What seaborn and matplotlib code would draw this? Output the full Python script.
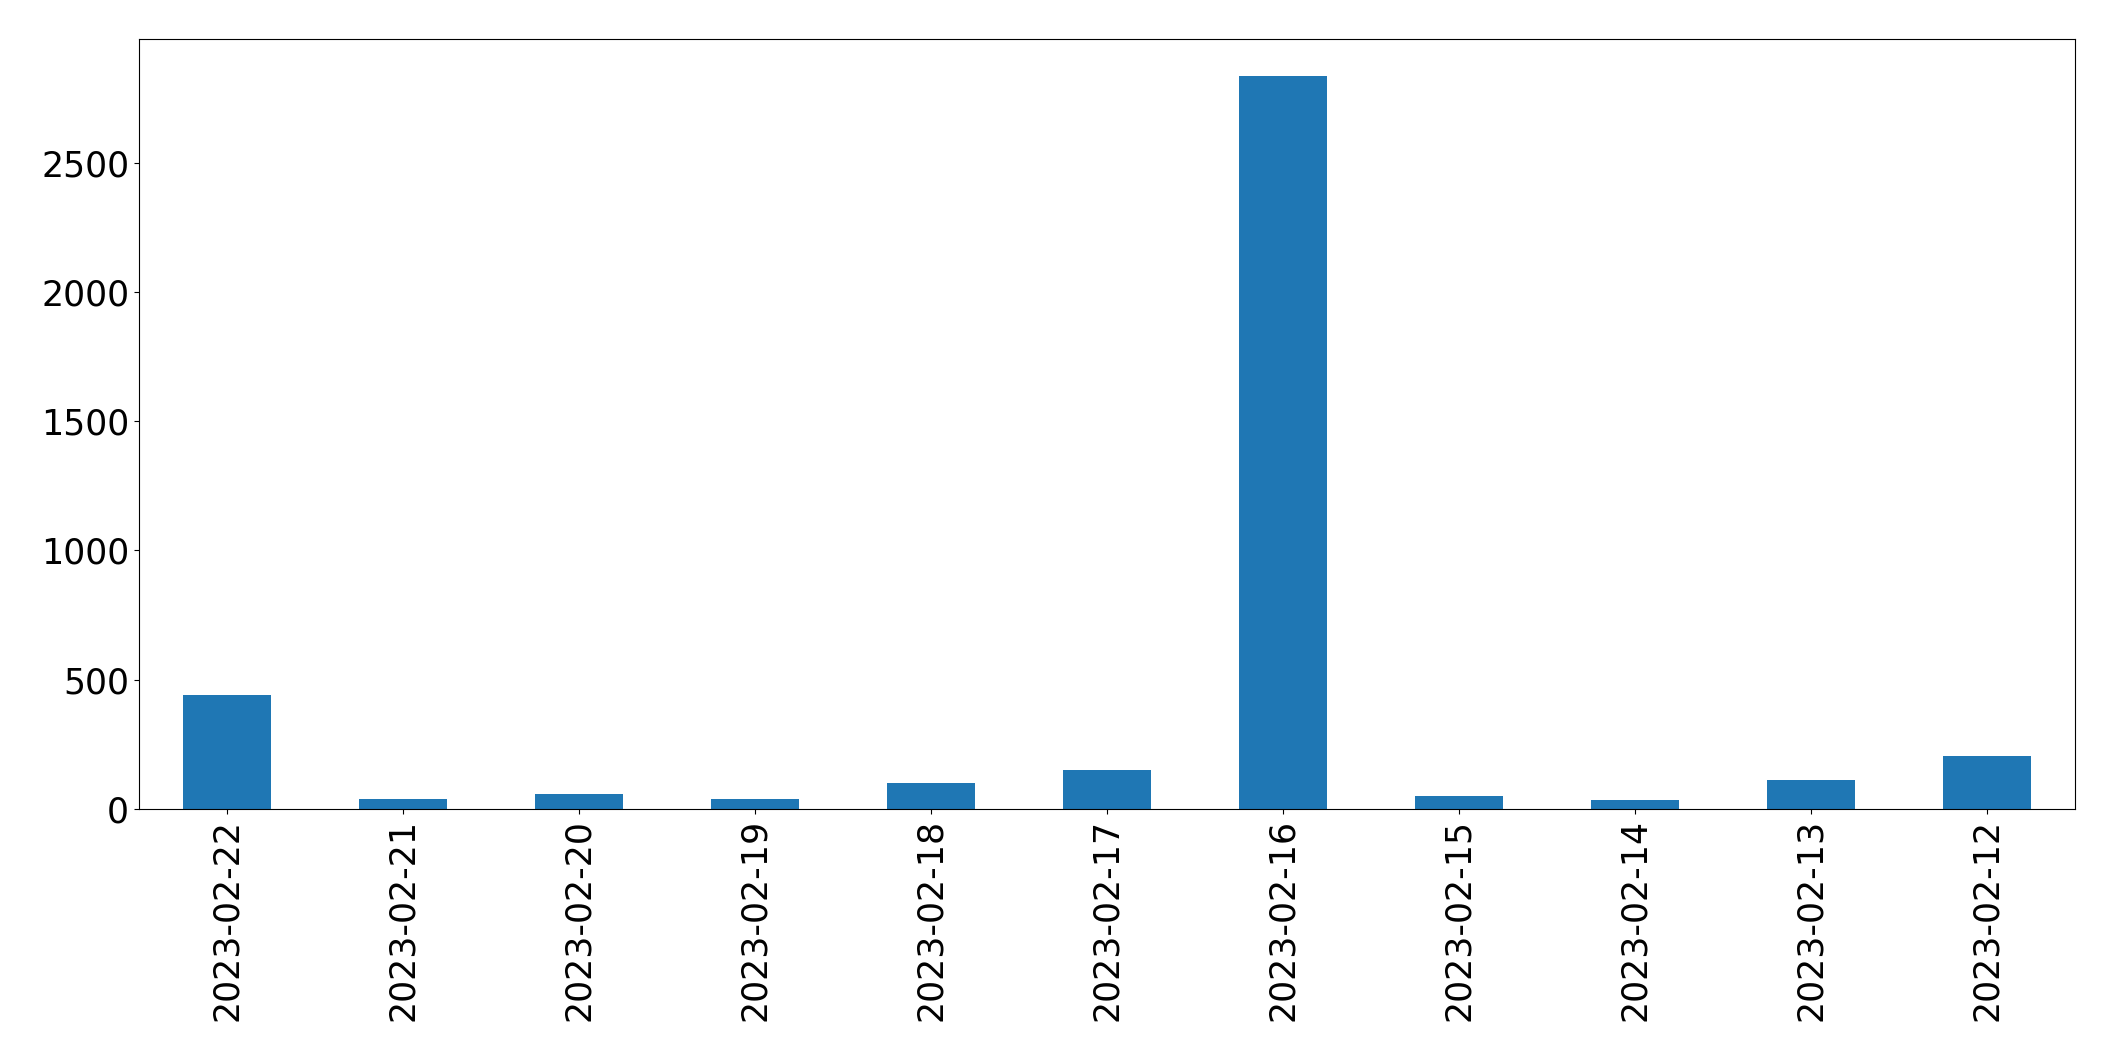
import matplotlib
matplotlib.use('Agg')
import matplotlib.pyplot as plt
import pandas as pd
import seaborn as sns

dates = ['2023-02-22', '2023-02-21', '2023-02-20', '2023-02-19', '2023-02-18', '2023-02-17',
         '2023-02-16', '2023-02-15', '2023-02-14', '2023-02-13', '2023-02-12']
counts = [440, 40, 58, 40, 100, 151, 2835, 50, 35, 112, 205]

df = pd.DataFrame({'date': dates, 'count': counts})

fig, ax = plt.subplots(figsize=(21.15, 10.61), dpi=100)
sns.barplot(data=df, x='date', y='count', order=dates, color='#1f77b4',
            saturation=1, width=0.5, ax=ax)

ax.set_xlabel('')
ax.set_ylabel('')
ax.tick_params(axis='both', labelsize=25)
plt.setp(ax.get_xticklabels(), rotation=90)
ax.set_xlim(-0.5, len(dates) - 0.5)
ax.set_yticks([0, 500, 1000, 1500, 2000, 2500])
ax.set_ylim(0, max(counts) * 1.05)

plt.subplots_adjust(left=0.0657, right=0.981, top=0.963, bottom=0.2375)
plt.savefig('out.png', dpi=100)
